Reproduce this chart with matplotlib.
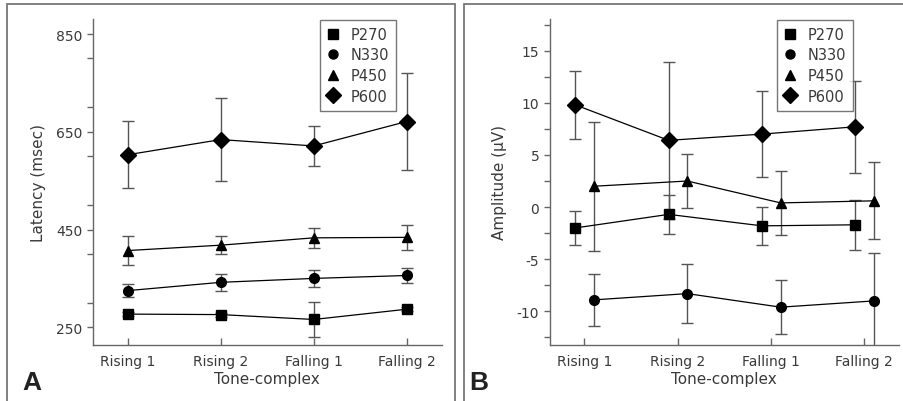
import numpy as np
import matplotlib
matplotlib.use("Agg")
import matplotlib.pyplot as plt
from matplotlib.patches import Rectangle
from matplotlib.ticker import MultipleLocator

plt.rcParams["font.family"] = ["DejaVu Sans"]
plt.rcParams["axes.unicode_minus"] = False

conditions = ["Rising 1", "Rising 2", "Falling 1", "Falling 2"]
components = ["P270", "N330", "P450", "P600"]
markers = ["s", "o", "^", "D"]

# Panel A: latency (msec), mean and error
lat_p270 = [277, 276, 266, 287]
lat_p270_err = [4, 4, 35, 4]
lat_n330 = [325, 342, 350, 356]
lat_n330_err = [13, 18, 17, 15]
lat_p450 = [407, 418, 433, 434]
lat_p450_err = [30, 19, 21, 26]
lat_p600 = [603, 634, 621, 671]
lat_p600_err = [69, 85, 41, 100]

# Panel B: amplitude (uV), mean and error
amp_p270 = [-2.0, -0.7, -1.8, -1.7]
amp_p270_err = [1.6, 1.9, 1.8, 2.4]
amp_n330 = [-8.9, -8.3, -9.6, -9.0]
amp_n330_err = [2.5, 2.8, 2.6, 4.6]
amp_p450 = [2.0, 2.5, 0.4, 0.6]
amp_p450_err = [6.2, 2.6, 3.1, 3.7]
amp_p600 = [9.8, 6.4, 7.0, 7.7]
amp_p600_err = [3.3, 7.5, 4.1, 4.4]

GRAY = "#555555"
TXT = "#3a3a3a"

fig = plt.figure(figsize=(9.04, 4.02), dpi=100)

# panel frames
fig.add_artist(Rectangle((7 / 904, -0.1), (455 - 7) / 904, 1.1 - 5 / 402,
                         transform=fig.transFigure, fill=False,
                         edgecolor="#777777", linewidth=1.3))
fig.add_artist(Rectangle((464 / 904, -0.1), 0.6, 1.1 - 5 / 402,
                         transform=fig.transFigure, fill=False,
                         edgecolor="#777777", linewidth=1.3))

axA = fig.add_axes([92.7 / 904, 1 - 345.7 / 402, 349 / 904, 325.7 / 402])
axB = fig.add_axes([549.7 / 904, 1 - 345.7 / 402, 349 / 904, 325.7 / 402])

x = np.arange(1, len(conditions) + 1)


def draw(ax, series, errs, offsets):
    for vals, err, m, off in zip(series, errs, markers, offsets):
        ax.errorbar(x + off, vals, yerr=err, fmt="none", ecolor=GRAY,
                    elinewidth=1.0, capsize=4, capthick=1.0, zorder=2)
        ms = 8.5 if m == "D" else 7
        ax.plot(x + off, vals, color="black", linewidth=0.9,
                marker=m, markersize=ms, markerfacecolor="black",
                markeredgecolor="black", zorder=3)


def style(ax, ylabel):
    for s in ["top", "right"]:
        ax.spines[s].set_visible(False)
    for s in ["left", "bottom"]:
        ax.spines[s].set_color("#666666")
        ax.spines[s].set_linewidth(1.0)
    ax.set_xticks(x)
    ax.set_xticklabels(conditions)
    ax.tick_params(axis="x", direction="in", length=5, width=1,
                   color="#666666", labelsize=10, labelcolor=TXT, pad=7)
    ax.tick_params(axis="y", which="both", direction="out", length=4,
                   width=1, color="#666666", labelsize=10, labelcolor=TXT)
    ax.set_xlabel("Tone-complex", fontsize=11, color=TXT, labelpad=2)
    ax.set_ylabel(ylabel, fontsize=11, color=TXT, labelpad=7)


draw(axA, [lat_p270, lat_n330, lat_p450, lat_p600],
     [lat_p270_err, lat_n330_err, lat_p450_err, lat_p600_err],
     [0, 0, 0, 0])
axA.set_xlim(0.624, 4.376)
axA.set_ylim(214.4, 880.7)
axA.set_yticks([250, 450, 650, 850])
axA.yaxis.set_minor_locator(MultipleLocator(100))
style(axA, "Latency (msec)")

draw(axB, [amp_p270, amp_n330, amp_p450, amp_p600],
     [amp_p270_err, amp_n330_err, amp_p450_err, amp_p600_err],
     [-0.095, 0.105, 0.105, -0.095])
axB.set_xlim(0.63, 4.37)
axB.set_ylim(-13.2, 18.04)
axB.set_yticks([-10, -5, 0, 5, 10, 15])
axB.yaxis.set_minor_locator(MultipleLocator(2.5))
style(axB, "Amplitude (µV)")

for ax in [axA, axB]:
    leg_handles = [plt.Line2D([], [], linestyle="none", marker=m, color="black",
                              markersize=6.5 if m != "D" else 8)
                   for m in markers]
    leg = ax.legend(leg_handles, components, loc="upper right",
                    bbox_to_anchor=(0.87, 0.998), frameon=True, fancybox=False,
                    fontsize=10.5, handlelength=0.8, handletextpad=0.8,
                    labelspacing=0.38, borderpad=0.5, borderaxespad=0.0)
    leg.get_frame().set_edgecolor("#555555")
    leg.get_frame().set_linewidth(1.0)
    for t in leg.get_texts():
        t.set_color(TXT)

fig.text(22 / 904, 1 - 383 / 402, "A", fontsize=19, fontweight="bold",
         family="Liberation Sans", va="center", ha="left", color="#222222")
fig.text(469 / 904, 1 - 383 / 402, "B", fontsize=19, fontweight="bold",
         family="Liberation Sans", va="center", ha="left", color="#222222")

fig.savefig("out.png", dpi=100)
